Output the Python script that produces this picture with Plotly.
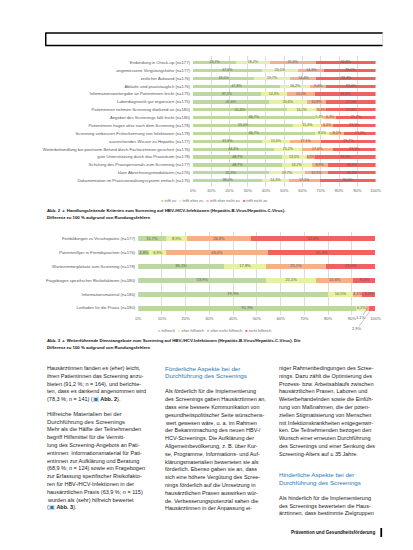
import plotly.graph_objects as go

W, H = 413, 550

# ── Abb. 2: Handlungsleitende Kriterien (Anteile in %) ──
kriterien = [
    "Einbindung in Check-up (n=177)",
    "angemessene Vergütungshöhe (n=177)",
    "zeitlicher Aufwand (n=176)",
    "Abläufe sind praxistauglich (n=176)",
    "Informationsweitergabe an Patientinnen leicht (n=175)",
    "Labordiagnostik gut organisiert (n=175)",
    "Patientinnen nehmen Screening dankend an (n=180)",
    "Angebot des Screenings fällt leicht (n=180)",
    "Patientinnen fragen aktiv nach dem Screening (n=178)",
    "Screening verbessert Früherkennung von Infektionen (n=179)",
    "ausreichendes Wissen zu Hepatitis (n=177)",
    "Weiterbehandlung bei positivem Befund durch Fachärztinnen gesichert (n=176)",
    "gute Unterstützung durch das Praxisteam (n=178)",
    "Schulung des Praxispersonals zum Screening (n=177)",
    "klare Abrechnungsmodalitäten (n=176)",
    "Dokumentation im Praxisverwaltungssystem einfach (n=175)",
]
k_trifft_zu   = [23.7, 37.6, 33.5, 47.8, 37.1, 41.6, 51.4, 66.7, 55.0, 66.7, 37.6, 44.3, 48.7, 48.7, 41.6, 38.0]
k_eher_zu     = [18.2, 20.1, 19.7, 16.2, 14.3, 20.6, 16.2, 5.3, 15.3, 8.0, 15.6, 15.2, 13.5, 16.2, 19.7, 14.3]
k_eher_nicht  = [25.3, 14.3, 14.4, 9.0, 15.3, 10.8, 5.4, 6.3, 6.2, 8.1, 17.1, 17.0, 4.5, 8.9, 12.5, 17.1]
k_nicht_zu    = [32.8, 28.0, 32.4, 27.0, 33.3, 27.0, 27.0, 21.7, 23.5, 17.2, 29.7, 23.5, 33.3, 26.2, 26.2, 30.6]
k_legende = ["trifft zu", "trifft eher zu", "trifft eher nicht zu", "trifft nicht zu"]

# ── Abb. 3: Weiterführende Dienstangebote (Anteile in %) ──
materialien = [
    "Fortbildungen zu Virushepatitis (n=177)",
    "Patientenflyer in Fremdsprachen (n=176)",
    "Wartezimmerplakate zum Screening (n=178)",
    "Fragebogen spezifischer Risikofaktoren (n=180)",
    "Informationsmaterial (n=180)",
    "Leitfaden für die Praxis (n=180)",
]
m_hilfreich      = [11.7, 4.8, 36.1, 53.9, 79.9, 91.9]
m_eher_hilfreich = [8.9, 6.9, 17.8, 21.1, 10.5, 4.1]
m_eher_nicht     = [26.8, 43.0, 25.1, 15.6, 4.1, 1.1]
m_nicht          = [52.6, 45.3, 21.0, 9.4, 5.5, 2.9]
m_legende = ["hilfreich", "eher hilfreich", "eher nicht hilfreich", "nicht hilfreich"]

tick_pct = [0, 10, 20, 30, 40, 50, 60, 70, 80, 90, 100]

COLORS = ["#bdd7a0", "#e6f0a6", "#f3b08a", "#ef6262"]
FONT = "Liberation Sans, Arial, sans-serif"
BLUE = "#2b78b4"
TXT = "#222222"


def X(px):
    return px / W


def Y(py):
    return 1 - py / H


def pct(v):
    return f"{v:.1f}".replace(".", ",") + "%"


fig = go.Figure()


def add_stack(cats, series, names, xa, ya, width, fsize, skip=()):
    run = [0.0] * len(cats)
    tx, ty, tt = [], [], []
    for s, (vals, col, name) in enumerate(zip(series, COLORS, names)):
        fig.add_trace(go.Bar(
            y=cats, x=vals, orientation="h", name=name,
            marker=dict(color=col, line=dict(width=0)),
            width=width, xaxis=xa, yaxis=ya, showlegend=False,
            hoverinfo="skip",
        ))
        for i, v in enumerate(vals):
            tx.append(run[i] + v / 2)
            ty.append(cats[i])
            tt.append("" if (i, s) in skip else pct(v))
            run[i] += v
    fig.add_trace(go.Scatter(
        x=tx, y=ty, text=tt, mode="text", xaxis=xa, yaxis=ya,
        textfont=dict(size=fsize, color="#555555", family=FONT),
        showlegend=False, hoverinfo="skip", cliponaxis=False,
    ))


add_stack(kriterien, [k_trifft_zu, k_eher_zu, k_eher_nicht, k_nicht_zu],
          k_legende, "x", "y", 0.42, 3.6)
add_stack(materialien, [m_hilfreich, m_eher_hilfreich, m_eher_nicht, m_nicht],
          m_legende, "x2", "y2", 0.36, 4.0, skip={(5, 2), (5, 3)})

axis_x = dict(range=[0, 100], tickvals=tick_pct, ticktext=[f"{t}%" for t in tick_pct],
              tickfont=dict(size=4.2, color="#666666", family=FONT),
              showgrid=True, gridcolor="#dcdcdc", gridwidth=0.6, zeroline=False,
              showline=False, ticks="", fixedrange=True)
axis_y = dict(type="category", autorange="reversed", showgrid=False, zeroline=False,
              ticks="", tickfont=dict(size=4.2, color="#555555", family=FONT),
              ticklabelstandoff=2, fixedrange=True)

ann = []

# small leader labels for the thin segments in the last row of Abb. 3
i6 = len(materialien) - 1
start_o = m_hilfreich[i6] + m_eher_hilfreich[i6]
start_r = start_o + m_eher_nicht[i6]
for xv, v, ax, ay in [(start_o + m_eher_nicht[i6] / 2, m_eher_nicht[i6], -6, 10),
                      (start_r + m_nicht[i6] / 2, m_nicht[i6], -15, 21)]:
    ann.append(dict(x=xv, y=materialien[i6], xref="x2", yref="y2", text=pct(v),
                    showarrow=True, arrowhead=0, arrowwidth=0.5, arrowcolor="#888888",
                    ax=ax, ay=ay, borderpad=0,
                    font=dict(size=4.0, color="#555555", family=FONT)))


def legend_text(names):
    parts = [f"<span style='color:{c}'>■</span>\u00a0{n}" for c, n in zip(COLORS, names)]
    return "\u00a0\u00a0\u00a0".join(parts)


ann.append(dict(x=X(208), y=Y(192), xref="paper", yref="paper", text=legend_text(k_legende),
                showarrow=False, xanchor="center", yanchor="middle",
                font=dict(size=3.9, color="#666666", family=FONT)))
ann.append(dict(x=X(208), y=Y(322), xref="paper", yref="paper", text=legend_text(m_legende),
                showarrow=False, xanchor="center", yanchor="middle",
                font=dict(size=3.9, color="#666666", family=FONT)))

tri = f"<span style='color:{BLUE}'>▲</span>"
captions = [
    (202.5, f"<b>Abb. 2 {tri} Handlungsleitende Kriterien zum Screening auf HBV-/HCV-Infektionen (Hepatitis-B-Virus/Hepatitis-C-Virus).</b>"),
    (209.5, "<b>Differenz zu 100 % aufgrund von Rundungsfehlern</b>"),
    (332.5, f"<b>Abb. 3 {tri} Weiterführende Dienstangebote zum Screening auf HBV-/HCV-Infektionen (Hepatitis-B-Virus/Hepatitis-C-Virus). Die</b>"),
    (339.5, "<b>Differenz zu 100 % aufgrund von Rundungsfehlern</b>"),
]
for py, t in captions:
    ann.append(dict(x=X(35), y=Y(py), xref="paper", yref="paper", text=t, showarrow=False,
                    xanchor="left", yanchor="middle", font=dict(size=4.3, color="#111111", family=FONT)))

box = f"<span style='color:{BLUE}'>▣</span>"
col1 = [
    "Hausärztinnen fanden es (eher) leicht,",
    "ihren Patientinnen das Screening anzu-",
    "bieten (91,2 %; n = 164), und berichte-",
    "ten, dass es dankend angenommen wird",
    f"(78,3 %; n = 141) ({box} <b>Abb. 2</b>).",
]
col1b = [
    "Mehr als die Hälfte der Teilnehmenden",
    "begriff Hilfsmittel für die Vermitt-",
    "lung des Screening-Angebots an Pati-",
    "entinnen: Informationsmaterial für Pati-",
    "entinnen zur Aufklärung und Beratung",
    "(68,9 %; n = 124) sowie ein Fragebogen",
    "zur Erfassung spezifischer Risikofakto-",
    "ren für HBV-/HCV-Infektionen in der",
    "hausärztlichen Praxis (63,9 %; n = 115)",
    "wurden als (sehr) hilfreich bewertet",
    f"({box} <b>Abb. 3</b>).",
]
col2 = [
    "Als förderlich für die Implementierung",
    "des Screenings gaben Hausärztinnen an,",
    "dass eine bessere Kommunikation von",
    "gesundheitspolitischer Seite wünschens-",
    "wert gewesen wäre, u. a. im Rahmen",
    "der Bekanntmachung des neuen HBV-/",
    "HCV-Screenings. Die Aufklärung der",
    "Allgemeinbevölkerung, z. B. über Kur-",
    "se, Programme, Informations- und Auf-",
    "klärungsmaterialien bewerteten sie als",
    "förderlich. Ebenso gaben sie an, dass",
    "sich eine höhere Vergütung des Scree-",
    "nings förderlich auf die Umsetzung in",
    "hausärztlichen Praxen auswirken wür-",
    "de. Verbesserungspotenzial sahen die",
    "Hausärztinnen in der Anpassung ei-",
]
col3 = [
    "niger Rahmenbedingungen des Scree-",
    "nings. Dazu zählt die Optimierung des",
    "Prozess- bzw. Arbeitsablaufs zwischen",
    "hausärztlichen Praxen, Laboren und",
    "Weiterbehandelnden sowie die Einfüh-",
    "rung von Maßnahmen, die der poten-",
    "ziellen Stigmatisierung von Menschen",
    "mit Infektionskrankheiten entgegenwir-",
    "ken. Die Teilnehmenden bezogen den",
    "Wunsch einer erneuten Durchführung",
    "des Screenings und einer Senkung des",
    "Screening-Alters auf ≤ 35 Jahre.",
]
col3b = [
    "Als hinderlich für die Implementierung",
    "des Screenings bewerteten die Haus-",
    "ärztinnen, dass bestimmte Zielgruppen",
]

LH = 7.8


def body(x, y0, lines, step=LH, size=5.5, color=TXT):
    for k, t in enumerate(lines):
        ann.append(dict(x=X(x), y=Y(y0 + k * step), xref="paper", yref="paper", text=t,
                        showarrow=False, xanchor="left", yanchor="middle",
                        font=dict(size=size, color=color, family=FONT)))


body(35, 360, col1)
body(35, 405.8, ["Hilfreiche Materialien bei der", "Durchführung des Screenings"], size=5.9, color="#1e3030")
body(35, 421.4, col1b)
body(155, 360, ["Förderliche Aspekte bei der", "Durchführung des Screenings"], step=7.9, size=6.2, color=BLUE)
body(155, 383.4, col2)
body(272, 360, col3)
body(272, 466.7, ["Hinderliche Aspekte bei der", "Durchführung des Screenings"], step=7.9, size=6.2, color=BLUE)
body(272, 490, col3b, step=7.6)

ann.append(dict(x=X(374), y=Y(524.5), xref="paper", yref="paper",
                text="<b>Prävention und Gesundheitsförderung</b>", showarrow=False,
                xanchor="right", yanchor="middle", font=dict(size=4.6, color="#111111", family=FONT)))

shapes = [
    # header frame
    dict(type="line", xref="paper", yref="paper", x0=X(35), x1=X(380), y0=Y(25), y1=Y(25),
         line=dict(color="black", width=1.5)),
    dict(type="line", xref="paper", yref="paper", x0=X(35), x1=X(380), y0=Y(37.5), y1=Y(37.5),
         line=dict(color="black", width=1.5)),
    dict(type="line", xref="paper", yref="paper", x0=X(35.5), x1=X(35.5), y0=Y(25), y1=Y(37.5),
         line=dict(color="black", width=1.5)),
    dict(type="line", xref="paper", yref="paper", x0=X(380), x1=X(380), y0=Y(25), y1=Y(37.5),
         line=dict(color="#cccccc", width=0.8)),
    # footer bar
    dict(type="rect", xref="paper", yref="paper", x0=X(377.6), x1=X(379.4), y0=Y(529), y1=Y(520),
         fillcolor="black", line=dict(width=0)),
]

fig.update_layout(
    width=W, height=H,
    margin=dict(l=0, r=0, t=0, b=0),
    paper_bgcolor="white", plot_bgcolor="white",
    barmode="stack", bargap=0,
    font=dict(family=FONT, color=TXT),
    xaxis=dict(axis_x, domain=[X(186), X(372.7)], anchor="y"),
    yaxis=dict(axis_y, domain=[Y(179.1), Y(47.9)], anchor="x"),
    xaxis2=dict(axis_x, domain=[X(130), X(372.7)], anchor="y2"),
    yaxis2=dict(axis_y, domain=[Y(306.9), Y(223.8)], anchor="x2"),
    annotations=ann,
    shapes=shapes,
    showlegend=False,
)

fig.write_html("out.html")
